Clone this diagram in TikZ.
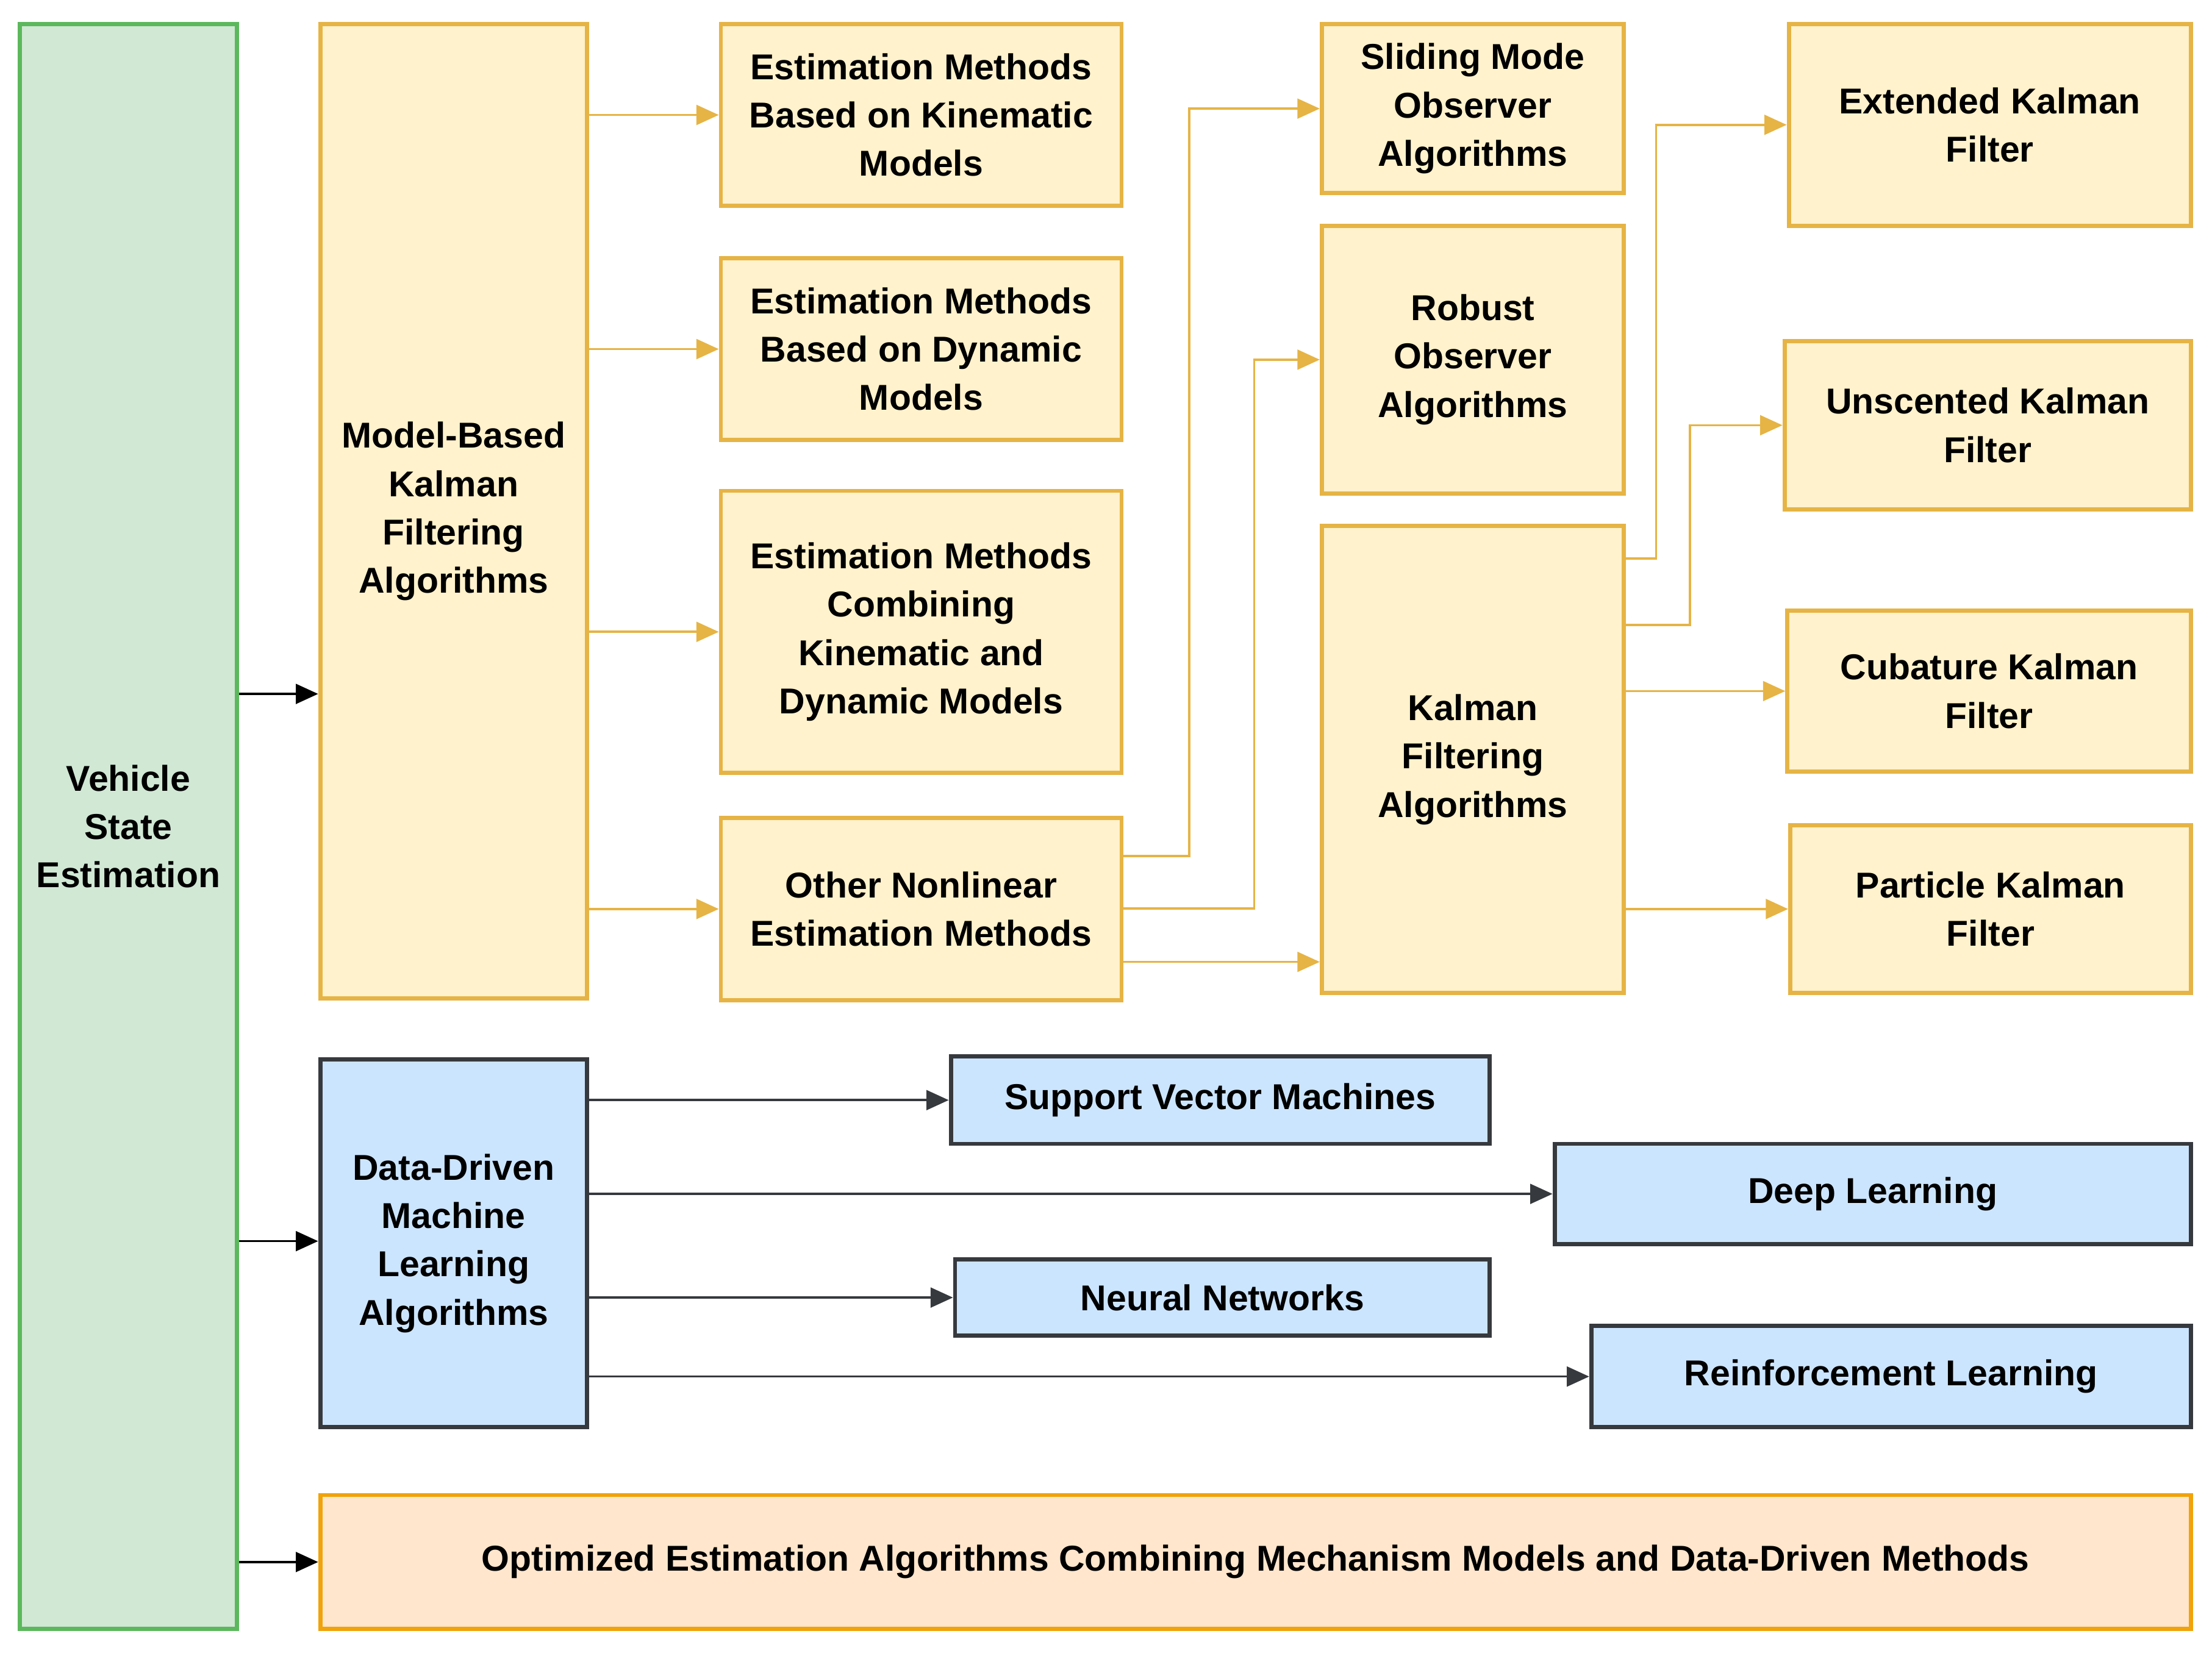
\documentclass[tikz,border=0pt]{standalone}
\usepackage{fontspec}
\setmainfont{Liberation Sans}
\usetikzlibrary{calc,arrows.meta}

\definecolor{ylfill}{HTML}{FFF2CC}
\definecolor{yldraw}{HTML}{E6B445}
\definecolor{blfill}{HTML}{CCE5FF}
\definecolor{bldraw}{HTML}{36393D}
\definecolor{grfill}{HTML}{D0E8D4}
\definecolor{grdraw}{HTML}{5CB85C}
\definecolor{orfill}{HTML}{FFE6CC}
\definecolor{ordraw}{HTML}{F0A30A}

\tikzset{
  box/.style={draw, line width=1.7pt, align=center, inner sep=0pt,
    font=\fontsize{14.5}{19.5}\selectfont\bfseries},
  yl/.style={box, fill=ylfill, draw=yldraw},
  bl/.style={box, fill=blfill, draw=bldraw},
  gr/.style={box, fill=grfill, draw=grdraw},
  og/.style={box, fill=orfill, draw=ordraw},
  ya/.style={draw=yldraw, line width=0.9pt, -{Triangle[length=9pt,width=8pt]}, yldraw},
  ka/.style={draw=bldraw, line width=0.9pt, -{Triangle[length=9pt,width=8pt]}, bldraw},
}
% box from corners
\newcommand\bx[7]{\node[#6, minimum width={(#4-#2)*0.02cm}, minimum height={(#5-#3)*0.02cm}] (#1) at ({(#2+#4)/2},{(#3+#5)/2}) {#7};}

\begin{document}
\begin{tikzpicture}[x=0.02cm,y=-0.02cm]
\useasboundingbox (0,0) rectangle (1568,1174);

\bx{vse}{14}{17}{168}{1155}{gr}{Vehicle\\State\\Estimation}
\bx{mb}{227}{17}{416}{708}{yl}{Model-Based\\Kalman\\Filtering\\Algorithms}
\bx{ek}{511}{17}{795}{146}{yl}{Estimation Methods\\Based on Kinematic\\Models}
\bx{ed}{511}{183}{795}{312}{yl}{Estimation Methods\\Based on Dynamic\\Models}
\bx{ec}{511}{348}{795}{548}{yl}{Estimation Methods\\Combining\\Kinematic and\\Dynamic Models}
\bx{on}{511}{580}{795}{709}{yl}{Other Nonlinear\\Estimation Methods}
\bx{smo}{937}{17}{1151}{137}{yl}{Sliding Mode\\Observer\\Algorithms}
\bx{ro}{937}{160}{1151}{350}{yl}{Robust\\Observer\\Algorithms}
\bx{kf}{937}{373}{1151}{704}{yl}{Kalman\\Filtering\\Algorithms}
\bx{ekf}{1268}{17}{1553}{160}{yl}{Extended Kalman\\Filter}
\bx{ukf}{1265}{242}{1553}{361}{yl}{Unscented Kalman\\Filter}
\bx{ckf}{1267}{433}{1553}{547}{yl}{Cubature Kalman\\Filter}
\bx{pkf}{1269}{585}{1553}{704}{yl}{Particle Kalman\\Filter}
\bx{dd}{227}{751}{416}{1012}{bl}{Data-Driven\\Machine\\Learning\\Algorithms}
\bx{svm}{674}{749}{1056}{811}{bl}{Support Vector Machines}
\bx{dl}{1102}{811}{1553}{882}{bl}{Deep Learning}
\bx{nn}{677}{893}{1056}{947}{bl}{Neural Networks}
\bx{rl}{1128}{940}{1553}{1012}{bl}{Reinforcement Learning}
\bx{opt}{227}{1060}{1553}{1155}{og}{Optimized Estimation Algorithms Combining Mechanism Models and Data-Driven Methods}

% main branches
\draw[ka, black] (vse.east |- 0,492) -- (mb.west |- 0,492);
\draw[ka, black] (vse.east |- 0,880) -- (dd.west |- 0,880);
\draw[ka, black] (vse.east |- opt.west) -- (opt.west);

% model based
\foreach \t in {ek,ed,ec,on}
  \draw[ya] (mb.east |- \t.west) -- (\t.west);
\draw[ya] (on.east |- 0,607) -- (843,607) |- (smo.west);
\draw[ya] (on.east |- 0,644) -- (889,644) |- (ro.west);
\draw[ya] (on.east |- 0,682) -- (kf.west |- 0,682);
\draw[ya] (kf.east |- 0,396) -- (1174,396) |- (ekf.west);
\draw[ya] (kf.east |- 0,443) -- (1198,443) |- (ukf.west);
\draw[ya] (kf.east |- ckf.west) -- (ckf.west);
\draw[ya] (kf.east |- pkf.west) -- (pkf.west);

% data driven
\foreach \t in {svm,dl,nn,rl}
  \draw[ka] (dd.east |- \t.west) -- (\t.west);
\end{tikzpicture}
\end{document}
